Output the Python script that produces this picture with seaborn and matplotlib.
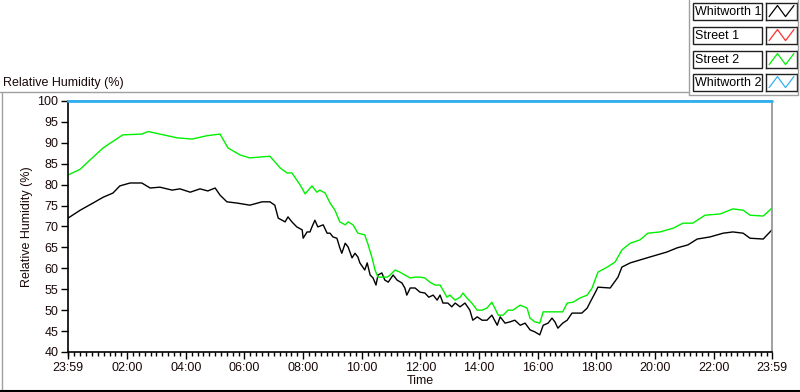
import matplotlib
matplotlib.use("Agg")
import matplotlib.pyplot as plt
from matplotlib.lines import Line2D
from matplotlib.patches import Rectangle
import seaborn as sns
import pandas as pd

# ---- data (time in minutes after the 23:59 start) ----
street2_t = [0, 25, 45, 72, 112, 151, 164, 223, 254, 284, 311, 327, 352, 372, 413, 434, 448, 458,
             468, 475, 485, 499, 509, 515, 526, 536, 546, 556, 567, 573, 583, 593, 607, 614, 622,
             628, 634, 642, 653, 659, 669, 679, 689, 700, 710, 720, 730, 740, 751, 761, 767, 775,
             781, 792, 802, 808, 816, 826, 837, 847, 857, 867, 873, 880, 890, 900, 910, 925, 939,
             945, 955, 965, 972, 986, 1000, 1012, 1021, 1033, 1047, 1062, 1072, 1078, 1084, 1103,
             1119, 1133, 1150, 1170, 1186, 1211, 1238, 1258, 1278, 1303, 1334, 1360, 1381, 1395,
             1422, 1440]
street2_v = [82.3, 83.7, 85.9, 88.8, 91.9, 92.1, 92.7, 91.2, 90.9, 91.7, 92.1, 88.8, 87.1, 86.4,
             86.8, 84.0, 82.8, 82.8, 81.1, 79.9, 77.8, 79.7, 78.2, 78.7, 78.0, 75.6, 73.9, 71.1,
             70.4, 71.1, 70.4, 68.4, 68.0, 65.6, 62.5, 59.6, 57.9, 57.9, 57.9, 58.4, 59.6, 59.1,
             58.4, 57.7, 57.9, 57.9, 57.7, 56.7, 56.0, 56.0, 54.8, 53.1, 53.6, 52.4, 53.1, 54.1,
             52.9, 51.7, 50.0, 50.0, 50.5, 51.9, 50.5, 48.8, 48.8, 50.0, 50.0, 51.2, 50.5, 48.1,
             47.2, 46.9, 49.6, 49.6, 49.6, 49.6, 51.7, 51.9, 52.9, 53.6, 55.3, 57.2, 59.1, 60.3,
             61.5, 64.4, 66.0, 66.8, 68.4, 68.7, 69.6, 70.8, 70.8, 72.7, 73.0, 74.2, 73.9, 72.7,
             72.5, 74.4]

whit1_t = [0, 25, 51, 72, 92, 106, 127, 151, 168, 188, 213, 229, 250, 270, 286, 301, 311, 325,
           346, 372, 397, 413, 423, 430, 438, 444, 450, 458, 468, 479, 481, 489, 495, 499, 505,
           511, 522, 530, 536, 542, 550, 556, 560, 567, 573, 581, 587, 593, 597, 607, 612, 618,
           624, 630, 634, 642, 648, 655, 665, 673, 683, 689, 693, 700, 710, 720, 730, 738, 747,
           755, 761, 767, 777, 785, 792, 802, 812, 822, 828, 837, 847, 857, 867, 878, 884, 894,
           904, 914, 925, 935, 945, 955, 965, 972, 982, 990, 996, 1002, 1012, 1021, 1031, 1041,
           1051, 1062, 1068, 1078, 1084, 1109, 1125, 1133, 1150, 1170, 1190, 1225, 1246, 1268,
           1287, 1313, 1340, 1360, 1381, 1395, 1422, 1440]
whit1_v = [72.0, 73.9, 75.6, 77.0, 78.0, 79.7, 80.4, 80.4, 79.2, 79.4, 78.7, 79.0, 78.2, 79.0,
           78.5, 79.2, 77.5, 75.9, 75.6, 75.1, 75.9, 75.9, 75.1, 72.0, 71.5, 71.1, 72.3, 71.1,
           69.9, 69.2, 67.2, 68.7, 68.7, 69.9, 71.5, 69.9, 70.4, 68.4, 68.4, 67.5, 67.2, 64.9,
           63.6, 66.0, 65.1, 62.5, 63.6, 62.7, 61.3, 59.6, 61.3, 58.4, 57.7, 56.0, 58.4, 58.9,
           57.2, 56.7, 58.4, 57.2, 56.5, 55.3, 53.6, 55.3, 55.3, 54.3, 54.1, 53.1, 53.6, 52.4,
           53.6, 51.7, 51.7, 50.8, 51.7, 50.8, 51.7, 50.0, 47.6, 48.4, 47.6, 47.6, 48.8, 46.4,
           48.4, 46.9, 47.2, 47.6, 46.4, 46.9, 45.3, 44.8, 44.1, 46.4, 46.9, 48.1, 47.2, 45.7,
           46.9, 47.6, 49.3, 49.3, 49.3, 50.5, 51.9, 54.1, 55.5, 55.3, 57.9, 60.3, 61.3, 62.0,
           62.7, 63.9, 64.9, 65.6, 67.0, 67.5, 68.4, 68.7, 68.4, 67.2, 67.0, 69.2]

whit2_t = [0, 1440]
whit2_v = [100.0, 100.0]

series_names = ["Whitworth 1", "Street 1", "Street 2", "Whitworth 2"]
series_colors = ["#000000", "#ff3030", "#00f000", "#30b0f0"]

y_ticks = [40, 45, 50, 55, 60, 65, 70, 75, 80, 85, 90, 95, 100]
x_tick_pos = [0, 121, 241, 361, 481, 601, 721, 841, 961, 1081, 1201, 1321, 1440]
x_tick_labels = ["23:59", "02:00", "04:00", "06:00", "08:00", "10:00", "12:00",
                 "14:00", "16:00", "18:00", "20:00", "22:00", "23:59"]

df = pd.concat([
    pd.DataFrame({"t": whit1_t, "rh": whit1_v, "series": "Whitworth 1"}),
    pd.DataFrame({"t": street2_t, "rh": street2_v, "series": "Street 2"}),
], ignore_index=True)

sns.set_style("white")
plt.rcParams["font.family"] = ["Liberation Sans", "DejaVu Sans"]
text_col = "#1a0808"
fs = 9

fig = plt.figure(figsize=(8.0, 3.92), dpi=100)
ax = fig.add_axes([68 / 800, 40 / 392, 704 / 800, 251 / 392])

sns.lineplot(data=df, x="t", y="rh", hue="series", estimator=None, sort=False,
             palette={"Whitworth 1": series_colors[0], "Street 2": series_colors[2]},
             linewidth=1.0, legend=False, ax=ax)
ax.plot(whit2_t, whit2_v, color=series_colors[3], lw=2.0, clip_on=False, zorder=5)

ax.set_xlim(0, 1440)
ax.set_ylim(40, 100)
ax.set_yticks(y_ticks)
ax.set_yticklabels([str(v) for v in y_ticks])
ax.set_xticks(x_tick_pos)
ax.set_xticklabels(x_tick_labels)
ax.set_xticks(list(range(1, 1440, 12)), minor=True)
ax.tick_params(axis="both", which="major", direction="out", length=5, width=1,
               color="black", labelsize=fs, labelcolor=text_col, pad=2)
ax.tick_params(axis="x", which="minor", direction="out", length=3, width=1, color="black")
ax.tick_params(bottom=True, left=True, which="both")
ax.tick_params(axis="y", which="minor", left=False)

ax.set_xlabel("Time", fontsize=fs, color=text_col, labelpad=1)
ax.set_ylabel("Relative Humidity (%)", fontsize=fs, color=text_col, labelpad=3)

for side in ["left", "bottom"]:
    ax.spines[side].set_color("black")
    ax.spines[side].set_linewidth(1.2)
for side in ["right", "top"]:
    ax.spines[side].set_color("#909090")
    ax.spines[side].set_linewidth(1.2)

# panel title
fig.text(3 / 800, 1 - 83 / 392, "Relative Humidity (%)", fontsize=fs, color=text_col,
         ha="left", va="center")

# frame lines
def fline(x0, y0, x1, y1, color, lw=1.0):
    fig.add_artist(Line2D([x0 / 800, x1 / 800], [1 - y0 / 392, 1 - y1 / 392],
                          transform=fig.transFigure, color=color, lw=lw))

fline(0, 92, 689, 92, "#a0a0a0")
fline(1.5, 92, 1.5, 392, "#a0a0a0")
fline(0, 390.5, 800, 390.5, "#000000", 1.5)
fline(689, 0, 689, 95, "#a0a0a0")
fline(689, 95, 798, 95, "#a0a0a0")
fline(798, 0, 798, 95, "#a0a0a0")

# legend boxes
box_tops = [3, 27, 51, 74]
for name, col, top in zip(series_names, series_colors, box_tops):
    h = 17
    fig.add_artist(Rectangle((693 / 800, 1 - (top + h) / 392), 69 / 800, h / 392,
                             transform=fig.transFigure, fill=True, facecolor="white",
                             edgecolor="#202020", lw=1.0))
    fig.text(695 / 800, 1 - (top + h / 2 + 0.5) / 392, name, fontsize=fs, color="black",
             ha="left", va="center")
    sw = fig.add_axes([766 / 800, 1 - (top + h) / 392, 31 / 800, h / 392])
    sw.plot([0.1, 0.37, 0.63, 0.9], [0.2, 0.85, 0.2, 0.85], color=col, lw=0.9)
    sw.set_xlim(0, 1)
    sw.set_ylim(0, 1)
    sw.set_xticks([])
    sw.set_yticks([])
    for s in sw.spines.values():
        s.set_color("#202020")
        s.set_linewidth(1.0)

fig.savefig("out.png", dpi=100)
